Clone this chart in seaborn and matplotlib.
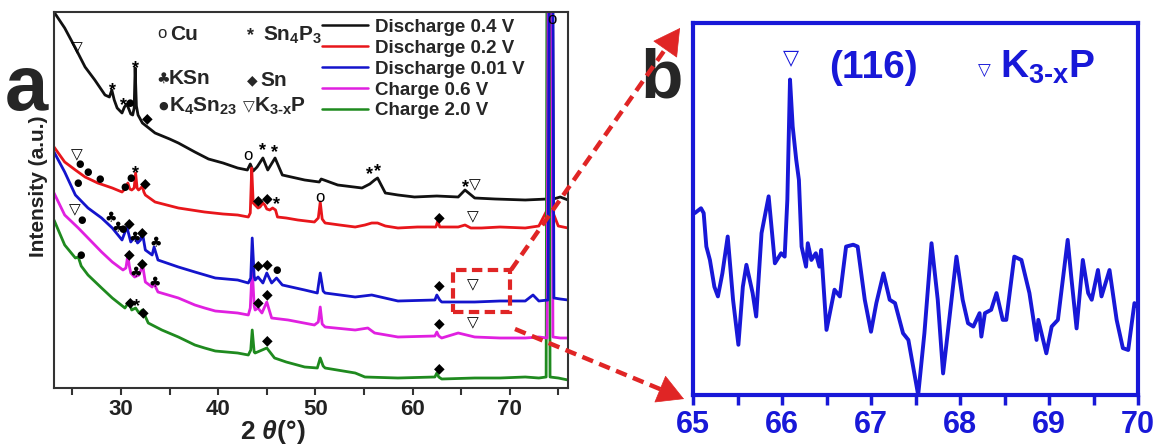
import numpy as np
import pandas as pd
import seaborn as sns
import matplotlib.pyplot as plt
from matplotlib.lines import Line2D
from matplotlib.patches import Rectangle, FancyArrowPatch

# ---------------- data ----------------
series_names = ["Discharge 0.4 V", "Discharge 0.2 V", "Discharge 0.01 V", "Charge 0.6 V", "Charge 2.0 V"]
series_colors = ["#111111", "#e8161b", "#1414cc", "#e020e0", "#1f8a1f"]

black_x = [23.1, 24.2, 25.3, 26.3, 27.3, 28.35, 28.8, 29.05, 29.3, 29.6, 30.1, 30.35, 30.6, 30.8, 31.0, 31.2, 31.35,
           31.45, 31.58, 31.75, 32.2, 33.5, 35.0, 35.9, 37.6, 39.0, 40.5, 42.0, 43.0, 43.3, 43.6, 44.0, 44.6, 45.1,
           45.85, 46.6, 48.9, 50.4, 50.6, 52.3, 54.8, 55.6, 56.1, 56.4, 57.2, 58.5, 60.2, 62.5, 64.7, 65.4, 66.4,
           68.5, 71.6, 73.9, 74.2, 74.5, 75.2, 76.0]
black_y = [376, 360, 340, 321, 308, 293, 291, 298, 288, 280, 275, 281, 284, 279, 274, 273, 280,
           320, 282, 273, 265, 255, 249, 245, 236, 229, 225, 220, 218, 224, 217, 221, 230, 218,
           230, 213, 208, 206, 209, 203, 200, 204, 208, 210, 195, 193, 191, 192, 191, 198, 190,
           189, 188, 189, 900, 189, 191, 188]

red_x = [23.1, 24.2, 25.3, 26.3, 27.6, 29.1, 30.1, 30.4, 30.7, 30.9, 31.1, 31.35, 31.5, 31.65, 31.8, 32.05, 32.2,
         32.35, 32.5, 33.5, 35.9, 38.6, 40.5, 42.0, 43.1, 43.3, 43.45, 43.6, 43.8, 44.1, 44.3, 44.6, 44.8, 45.0,
         45.3, 45.6, 45.9, 46.1, 47.0, 48.2, 49.9, 50.3, 50.5, 50.7, 51.0, 52.5, 54.1, 55.1, 55.8, 56.4, 57.2,
         58.5, 60.5, 62.4, 62.6, 62.8, 64.7, 65.4, 66.0, 67.1, 69.0, 71.6, 73.0, 73.85, 74.1, 74.35, 75.0, 76.0]
red_y = [241, 226, 218, 211, 205, 200, 196, 199, 205, 199, 198, 200, 215, 200, 198, 200, 202,
         196, 193, 186, 180, 176, 174, 173, 171, 175, 220, 185, 183, 180, 181, 185, 183, 179,
         178, 180, 178, 171, 170, 168, 166, 170, 186, 169, 165, 163, 161, 163, 165, 165, 162,
         160, 161, 161, 167, 161, 161, 163, 160, 160, 161, 160, 162, 178, 700, 178, 162, 160]

blue_x = [23.1, 24.2, 25.3, 26.6, 28.0, 29.1, 30.1, 30.6, 31.0, 31.4, 31.7, 32.0, 32.2, 32.5, 33.2, 33.4, 33.8,
          35.9, 37.6, 39.7, 42.0, 43.1, 43.35, 43.5, 43.7, 43.8, 44.1, 44.6, 45.0, 45.5, 46.0, 46.6, 48.9, 50.2,
          50.5, 50.8, 51.0, 54.1, 55.8, 58.5, 62.3, 62.5, 62.8, 63.0, 66.4, 69.0, 71.6, 72.4, 73.0, 73.95, 74.25,
          74.55, 75.2, 76.0]
blue_y = [236, 216, 193, 180, 170, 160, 148, 161, 146, 151, 145, 148, 155, 138, 133, 141, 128,
          121, 116, 110, 108, 105, 110, 150, 112, 108, 111, 105, 115, 105, 110, 103, 98, 95,
          115, 97, 95, 91, 93, 87, 88, 93, 88, 86, 86, 87, 87, 93, 87, 88, 1000,
          90, 89, 88]

mag_x = [23.1, 24.2, 25.6, 26.6, 28.0, 29.1, 30.2, 30.5, 30.7, 30.85, 31.0, 31.4, 31.85, 32.05, 32.2, 32.35, 32.5,
         33.2, 33.4, 33.6, 33.8, 35.9, 37.6, 38.6, 39.7, 42.0, 43.1, 43.3, 43.5, 43.7, 43.8, 44.1, 44.5, 45.0,
         45.5, 47.2, 49.9, 50.3, 50.5, 50.7, 51.0, 54.1, 55.4, 56.1, 58.5, 62.3, 62.5, 62.7, 63.0, 64.7, 66.4,
         69.0, 71.6, 73.0, 73.85, 74.15, 74.45, 75.2, 76.0]
mag_y = [195, 173, 160, 150, 136, 126, 118, 120, 133, 122, 115, 111, 113, 118, 125, 115, 106,
         101, 106, 100, 96, 90, 83, 80, 77, 75, 73, 80, 120, 82, 78, 80, 75, 86,
         70, 68, 63, 66, 81, 64, 61, 58, 60, 55, 51, 52, 56, 52, 50, 55, 51,
         50, 50, 51, 50, 1000, 51, 50, 50]

green_x = [23.1, 24.2, 25.3, 25.6, 25.9, 26.6, 28.0, 29.1, 30.4, 30.8, 31.1, 31.5, 31.85, 32.2, 32.8, 34.2, 35.9,
           37.6, 38.6, 39.7, 42.0, 43.1, 43.35, 43.5, 43.7, 43.8, 45.0, 45.8, 47.0, 48.9, 50.2, 50.5, 50.8, 51.0,
           54.1, 55.1, 58.5, 62.3, 62.5, 62.7, 63.0, 66.4, 69.0, 71.6, 73.0, 73.75, 73.95, 74.15, 75.0, 76.0]
green_y = [168, 143, 130, 131, 122, 113, 100, 90, 80, 86, 78, 80, 75, 78, 65, 58, 51,
           43, 40, 37, 35, 33, 38, 58, 36, 35, 40, 30, 26, 21, 20, 30, 22, 20,
           15, 11, 10, 11, 15, 11, 9, 10, 10, 11, 10, 11, 1000, 11, 10, 8]

# phase marker positions (2theta, intensity)
tri_x = [25.4, 25.5, 66.4, 66.2, 25.2, 66.2, 66.2]
tri_y = [340, 233, 203, 171, 178, 103, 65]
star_x = [29.1, 30.3, 31.45, 44.6, 45.8, 55.6, 56.4, 65.4, 31.5, 46.0, 31.6]
star_y = [300, 285, 322, 240, 238, 216, 219, 203, 217, 186, 84]
dot_x = [30.9, 25.7, 25.5, 26.6, 27.8, 30.4, 31.0, 30.2, 46.0, 25.9, 25.8]
dot_y = [285, 224, 205, 216, 209, 201, 210, 159, 118, 168, 133]
dia_x = [32.7, 32.5, 44.1, 45.0, 62.7, 30.8, 32.2, 44.1, 45.0, 62.7, 30.8, 32.2, 44.1, 45.0, 62.7,
         30.9, 32.3, 45.1, 62.7]
dia_y = [270, 205, 188, 190, 171, 165, 156, 123, 124, 103, 134, 125, 86, 94, 65,
         86, 76, 48, 20]
club_x = [28.9, 29.7, 31.4, 33.6, 31.5, 33.5]
club_y = [170, 160, 150, 145, 115, 105]
cu_x = [43.1, 50.5, 74.3]
cu_y = [233, 190, 369]

# panel b zoom of Discharge 0.01 V (normalised intensity)
b_x = [65.02, 65.09, 65.12, 65.15, 65.19, 65.24, 65.28, 65.33, 65.39, 65.45, 65.51, 65.56, 65.60, 65.67, 65.71,
       65.77, 65.85, 65.92, 65.99, 66.03, 66.06, 66.09, 66.12, 66.16, 66.19, 66.22, 66.27, 66.29, 66.33, 66.38,
       66.42, 66.44, 66.50, 66.59, 66.65, 66.72, 66.80, 66.85, 66.93, 67.00, 67.06, 67.14, 67.21, 67.27, 67.36,
       67.42, 67.53, 67.60, 67.68, 67.75, 67.81, 67.96, 68.03, 68.09, 68.15, 68.22, 68.24, 68.28, 68.35, 68.41,
       68.48, 68.52, 68.61, 68.69, 68.78, 68.86, 68.88, 68.97, 69.03, 69.10, 69.21, 69.25, 69.31, 69.38, 69.44,
       69.48, 69.55, 69.59, 69.68, 69.76, 69.83, 69.89, 69.96, 69.99]
b_y = [0.489, 0.502, 0.489, 0.399, 0.363, 0.291, 0.265, 0.327, 0.426, 0.256, 0.135, 0.291, 0.350, 0.274, 0.211,
       0.435, 0.534, 0.354, 0.381, 0.372, 0.525, 0.848, 0.722, 0.632, 0.578, 0.399, 0.345, 0.408, 0.363, 0.381,
       0.345, 0.390, 0.175, 0.283, 0.265, 0.399, 0.404, 0.399, 0.256, 0.170, 0.247, 0.327, 0.256, 0.247, 0.166,
       0.148, 0.0, 0.166, 0.408, 0.256, 0.058, 0.372, 0.256, 0.193, 0.184, 0.220, 0.157, 0.220, 0.229, 0.274,
       0.202, 0.202, 0.372, 0.363, 0.274, 0.148, 0.202, 0.112, 0.184, 0.202, 0.417, 0.318, 0.179, 0.363, 0.274,
       0.256, 0.336, 0.265, 0.336, 0.202, 0.126, 0.121, 0.247, 0.238]

a_ticks = [30, 40, 50, 60, 70]
b_ticks = [65, 66, 67, 68, 69, 70]

# ---------------- style ----------------
sns.set_theme(style="white")
plt.rcParams["font.family"] = ["Liberation Sans", "DejaVu Sans"]
plt.rcParams["font.weight"] = "bold"
plt.rcParams["mathtext.fontset"] = "custom"
plt.rcParams["mathtext.rm"] = "Liberation Sans:bold"
plt.rcParams["mathtext.bf"] = "Liberation Sans:bold"
plt.rcParams["mathtext.it"] = "Liberation Sans:italic:bold"

W, H = 1158, 447
fig = plt.figure(figsize=(W / 100, H / 100), dpi=100)
axa = fig.add_axes([54 / W, 1 - 388 / H, 514 / W, 376 / H])
axb = fig.add_axes([693 / W, 1 - 395 / H, 445 / W, 372 / H])

# ---------------- panel a ----------------
curves = [(black_x, black_y), (red_x, red_y), (green_x, green_y), (mag_x, mag_y), (blue_x, blue_y)]
order = [0, 1, 4, 3, 2]
for (xs, ys), idx in zip(curves, order):
    sns.lineplot(x=xs, y=ys, ax=axa, color=series_colors[idx], lw=2.0, estimator=None, sort=False)

axa.set_xlim(23.1, 76.0)
axa.set_ylim(0, 376)
axa.set_yticks([])
axa.set_xticks(a_ticks)
axa.set_xticks([25, 35, 45, 55, 65, 75], minor=True)
axa.tick_params(axis="x", which="both", direction="out", length=5, width=1.5, bottom=True,
                colors="#333333", labelsize=16, pad=3)
for lab in axa.get_xticklabels():
    lab.set_fontweight("bold")
    lab.set_color("#222222")
for sp in axa.spines.values():
    sp.set_color("#333333")
    sp.set_linewidth(1.5)

# phase markers
mk = dict(ha="center", va="center", color="black", zorder=5)
for x, y in zip(tri_x, tri_y):
    axa.text(x, y, "\u25BD", fontsize=11, family=["DejaVu Sans"], fontweight="normal", **mk)
for x, y in zip(star_x, star_y):
    axa.text(x, y - 3, "*", fontsize=13, **mk)
for x, y in zip(dot_x, dot_y):
    axa.text(x, y, "\u25CF", fontsize=7, family=["DejaVu Sans"], **mk)
for x, y in zip(dia_x, dia_y):
    axa.text(x, y, "\u25C6", fontsize=10, family=["DejaVu Sans"], **mk)
for x, y in zip(club_x, club_y):
    axa.text(x, y, "\u2663", fontsize=10, family=["DejaVu Sans"], **mk)
for x, y in zip(cu_x, cu_y):
    axa.text(x, y, "o", fontsize=12, fontweight="normal", **mk)

# symbol key
key_fs = 15
axa.text(34.2, 355, "o", fontsize=12, fontweight="normal", ha="center", va="center")
axa.text(35.0, 353, "Cu", fontsize=key_fs, ha="left", va="center")
axa.text(43.3, 352, "*", fontsize=13, ha="center", va="center")
axa.text(44.6, 353, r"$\mathbf{Sn_4P_3}$", fontsize=key_fs, ha="left", va="center")
axa.text(34.3, 310, "\u2663", fontsize=11, family=["DejaVu Sans"], ha="center", va="center")
axa.text(34.9, 310, "KSn", fontsize=key_fs, ha="left", va="center")
axa.text(43.5, 308, "\u25C6", fontsize=10, family=["DejaVu Sans"], ha="center", va="center")
axa.text(44.3, 308, "Sn", fontsize=key_fs, ha="left", va="center")
axa.text(34.3, 282, "\u25CF", fontsize=8, family=["DejaVu Sans"], ha="center", va="center")
axa.text(34.9, 282, r"$\mathbf{K_4Sn_{23}}$", fontsize=key_fs, ha="left", va="center")
axa.text(43.1, 281, "\u25BD", fontsize=11, family=["DejaVu Sans"], fontweight="normal", ha="center", va="center")
axa.text(43.7, 282, r"$\mathbf{K}_{\mathbf{3\text{-}x}}\mathbf{P}$", fontsize=key_fs, ha="left", va="center")

# line legend
handles = [Line2D([], [], color=c, lw=1.8) for c in series_colors]
axa.legend(handles, series_names, loc="upper left", bbox_to_anchor=(0.521, 0.982), frameon=False,
           borderpad=0, borderaxespad=0, handlelength=2.45, handletextpad=0.37, labelspacing=0.2,
           prop=dict(weight="bold", size=13.5))

axa.set_ylabel("Intensity (a.u.)", fontsize=15, fontweight="bold", color="#222222")
axa.yaxis.set_label_coords(-0.012, 0.537)
axa.set_xlabel(r"2 $\theta$(°)", fontsize=19, fontweight="bold", color="#222222")
axa.xaxis.set_label_coords(0.426, -0.08)

# dashed box around zoomed region
axa.add_patch(Rectangle((64.2, 76), 5.8, 42, fill=False, ec="#e02525", lw=3, ls=(0, (2.5, 1.3)), zorder=6))

# ---------------- panel b ----------------
bcol = "#1818d8"
sns.lineplot(x=b_x, y=b_y, ax=axb, color=bcol, lw=2.8, estimator=None, sort=False)
axb.set_xlim(65, 70)
axb.set_ylim(0, 1)
axb.set_yticks([])
axb.set_xticks(b_ticks)
axb.set_xticks([65.5, 66.5, 67.5, 68.5, 69.5], minor=True)
axb.tick_params(axis="x", which="both", direction="out", length=7, width=2.5, bottom=True,
                colors=bcol, labelsize=22, pad=4)
for lab in axb.get_xticklabels():
    lab.set_fontweight("bold")
for sp in axb.spines.values():
    sp.set_color(bcol)
    sp.set_linewidth(3)
axb.text(66.10, 0.905, "\u25BD", fontsize=15, family=["DejaVu Sans"], fontweight="normal",
         color=bcol, ha="center", va="center")
axb.text(66.53, 0.88, "(116)", fontsize=28, color=bcol, ha="left", va="center")
axb.text(68.27, 0.87, "\u25BD", fontsize=12, family=["DejaVu Sans"], fontweight="normal",
         color=bcol, ha="center", va="center")
axb.text(68.45, 0.88, r"$\mathbf{K}_{\mathbf{3\text{-}x}}\mathbf{P}$", fontsize=28, color=bcol,
         ha="left", va="center")

# ---------------- panel letters ----------------
fig.text(5 / W, 1 - 110 / H, "a", fontsize=56, fontweight="bold", va="baseline", ha="left")
fig.text(640 / W, 1 - 97 / H, "b", fontsize=50, fontweight="bold", va="baseline", ha="left")

# ---------------- red dashed arrows ----------------
red = "#e02525"
def dashed_arrow(p0, p1):
    x0, y0 = p0[0] / W, 1 - p0[1] / H
    x1, y1 = p1[0] / W, 1 - p1[1] / H
    dx, dy = (p1[0] - p0[0]), (p1[1] - p0[1])
    L = np.hypot(dx, dy)
    back = 16.0 / L
    xm = x1 - (x1 - x0) * back
    ym = y1 - (y1 - y0) * back
    fig.add_artist(Line2D([x0, xm], [y0, ym], transform=fig.transFigure, color=red, lw=3.2,
                          ls=(0, (2.6, 1.5)), zorder=10))
    fig.add_artist(FancyArrowPatch((xm, ym), (x1, y1), transform=fig.transFigure,
                                   arrowstyle="-|>,head_length=0.9,head_width=0.5", mutation_scale=20,
                                   color=red, lw=0.5, shrinkA=0, shrinkB=0, zorder=10))

dashed_arrow((511, 270), (680, 28))
dashed_arrow((515, 329), (684, 399))

fig.savefig("out.png", dpi=100)
